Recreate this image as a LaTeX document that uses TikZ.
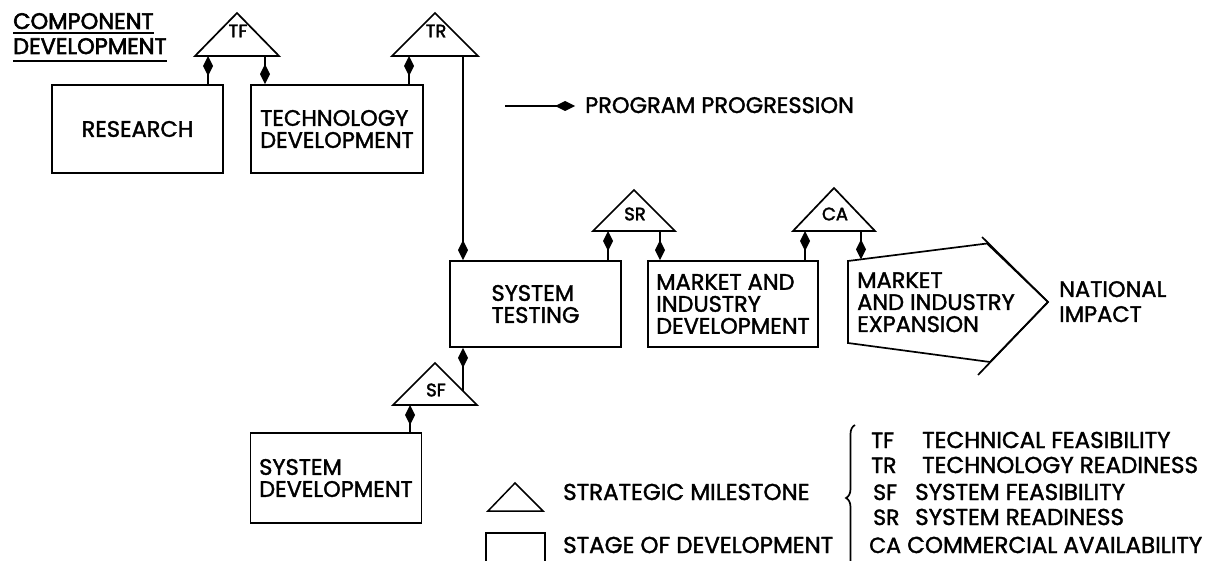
\documentclass[tikz,border=0pt]{standalone}
\usepackage{fontspec}
\setmainfont{Poppins}[FakeBold=1.6]
\usetikzlibrary{arrows.meta,decorations.pathreplacing,calc}

\newcommand\stagefont{\fontsize{22.5}{22}\selectfont}
\newcommand\legendfont{\fontsize{23}{24}\selectfont}
\newcommand\abbrfont{\fontsize{22}{24}\selectfont}
\newcommand\msfont{\fontsize{18}{18}\selectfont\addfontfeature{FakeBold=2.2}}
\newcommand\headfont{\fontsize{22.5}{24}\selectfont\addfontfeature{FakeBold=2.6}}

\begin{document}
\begin{tikzpicture}[x=1pt,y=-1pt,
  stage/.style={draw, line width=1.7pt, inner sep=0pt, align=left, font=\stagefont},
  txt/.style={inner sep=0pt, align=left},
  msshape/.style={draw, line width=1.7pt, line join=miter},
  mslabel/.style={inner sep=0pt, font=\msfont},
  link/.style={line width=1.9pt, -{Kite[length=20pt,width=10pt,inset=10pt]}},
  uline/.style={line width=1.5pt}]

\useasboundingbox (0,0) rectangle (1221,561);
\clip (0,0) rectangle (1221,561);

% ---- heading
\node[txt, font=\headfont, anchor=base west] (hd1) at (13,29) {COMPONENT};
\node[txt, font=\headfont, anchor=base west] (hd2) at (13,54) {DEVELOPMENT};
\draw[uline] ($(hd1.base west)+(0,4)$) -- ($(hd1.base east)+(0,4)$);
\draw[uline] ($(hd2.base west)+(0,7)$) -- ($(hd2.base east)+(0,7)$);

% ---- stages of development
\node[stage, minimum width=171pt, minimum height=88pt] (res) at (137.5,129) {RESEARCH};
\node[stage, minimum width=172pt, minimum height=88pt] (td)  at (337,129) {TECHNOLOGY\\DEVELOPMENT};
\node[stage, minimum width=171pt, minimum height=86pt] (st)  at (535.5,304) {SYSTEM\\TESTING};
\node[stage, minimum width=170pt, minimum height=86pt] (mid) at (733,304) {MARKET AND\\INDUSTRY\\DEVELOPMENT};
\node[stage, minimum width=171pt, minimum height=90pt] (sd)  at (336,478) {SYSTEM\\DEVELOPMENT};

% expansion stage: arrow-shaped outline
\draw[line width=1.7pt, line join=miter]
  (848,261) -- (987,243.5) -- (1048,302) -- (990,362) -- (848,343) -- cycle;
\draw[line width=1.7pt] (982,237) -- (1048,302) -- (978,375);
\coordinate (mie-top) at (861,259.4);
\node[txt, font=\stagefont, anchor=base west] (mie) at (857,332)
  {MARKET\\AND INDUSTRY\\EXPANSION};
\node[txt, font=\stagefont, anchor=base west] (ni) at (1059,322)
  {NATIONAL\\[3pt]IMPACT};

% ---- strategic milestones
\draw[msshape] (195,56) -- (237,13) -- (279,56) -- cycle;
\node[mslabel] (tf) at (238,31) {TF};
\draw[msshape] (392,56) -- (435,13) -- (478,56) -- cycle;
\node[mslabel] (tr) at (436,31) {TR};
\draw[msshape] (593,231) -- (634,190) -- (675,231) -- cycle;
\node[mslabel] (sr) at (635,214) {SR};
\draw[msshape] (793,231) -- (834,188) -- (875,231) -- cycle;
\node[mslabel] (ca) at (835,214) {CA};
\draw[msshape] (393,405) -- (435,363) -- (477,405) -- cycle;
\node[mslabel] (sf) at (436,390) {SF};

\coordinate (tf-in)  at (208,56);
\coordinate (tf-out) at (265,56);
\coordinate (tr-in)  at (409,56);
\coordinate (tr-out) at (463,56);
\coordinate (sr-in)  at (608,231);
\coordinate (sr-out) at (660,231);
\coordinate (ca-in)  at (805,231);
\coordinate (ca-out) at (861,231);
\coordinate (sf-in)  at (410,405);
\coordinate (sf-out) at (463,391);

% ---- program progression
\draw[link] (res.north -| tf-in) -- (tf-in);
\draw[link] (tf-out) -- (td.north -| tf-out);
\draw[link] (td.north -| tr-in) -- (tr-in);
\draw[link] (tr-out) -- (st.north -| tr-out);
\draw[link] (st.north -| sr-in) -- (sr-in);
\draw[link] (sr-out) -- (mid.north -| sr-out);
\draw[link] (mid.north -| ca-in) -- (ca-in);
\draw[link] (ca-out) -- (mie-top);
\draw[link] (sd.north -| sf-in) -- (sf-in);
\draw[link] (sf-out) -- (st.south -| sf-out);

% ---- legend
\node[txt, font=\stagefont, anchor=base west] (pp) at (585,113) {PROGRAM PROGRESSION};
\coordinate (pp-from) at (505,106);
\coordinate (pp-to) at (575,106);
\draw[link] (pp-from) -- (pp-to);

\draw[line width=1.5pt] (488,511) -- (515,483) -- (543,511) -- cycle;
\node[txt, font=\legendfont, anchor=base west] (lgm) at (563,500) {STRATEGIC MILESTONE};
\draw[line width=1.5pt] (486,575) -- (486,533) -- (545,533) -- (545,575);
\node[txt, font=\legendfont, anchor=base west] (lgs) at (563,553) {STAGE OF DEVELOPMENT};

\draw[line width=1.7pt, decorate, decoration={brace, amplitude=9pt}]
  (855,571) -- (855,425);

\foreach \ab/\ax/\nm/\nx/\yy in {TF/871/TECHNICAL FEASIBILITY/922/448,
    TR/871/TECHNOLOGY READINESS/922/473, SF/873/SYSTEM FEASIBILITY/915/500,
    SR/873/SYSTEM READINESS/915/525, CA/869/COMMERCIAL AVAILABILITY/907/553} {
  \node[txt, font=\abbrfont, anchor=base west] (ab-\ab) at (\ax,\yy) {\ab};
  \node[txt, font=\legendfont, anchor=base west] (nm-\ab) at (\nx,\yy) {\nm};
}
\end{tikzpicture}
\end{document}
